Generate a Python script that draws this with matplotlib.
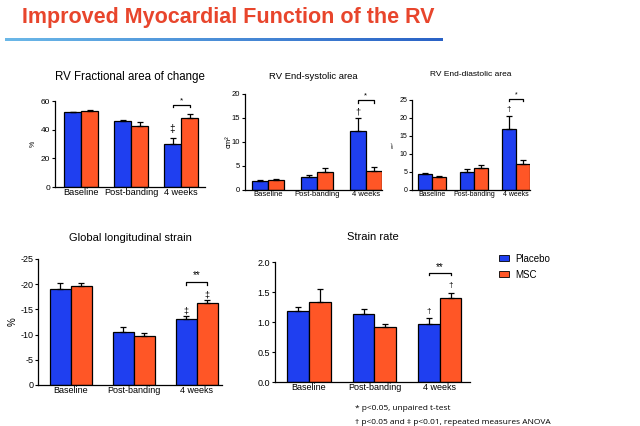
import matplotlib as mpl
mpl.use('Agg')
import matplotlib.pyplot as plt
import matplotlib.patches as mpatches
import numpy as np

plt.rcParams['font.family'] = ['Liberation Sans', 'DejaVu Sans']
plt.rcParams['axes.unicode_minus'] = False

groups = ['Baseline', 'Post-banding', '4 weeks']
series = ['Placebo', 'MSC']
blue = '#1f3ff0'
orange = '#ff5626'

# RV fractional area of change (%)
fac_placebo = [52, 46, 30]
fac_placebo_err = [0.6, 0.9, 4.5]
fac_msc = [53, 42.5, 48]
fac_msc_err = [0.6, 2.6, 3.2]

# RV end-systolic area (cm2)
esa_placebo = [1.9, 2.7, 12.2]
esa_placebo_err = [0.2, 0.5, 2.7]
esa_msc = [2.1, 3.7, 3.9]
esa_msc_err = [0.2, 0.9, 0.9]

# RV end-diastolic area (cm2)
eda_placebo = [4.5, 4.9, 17.0]
eda_placebo_err = [0.3, 0.9, 3.6]
eda_msc = [3.6, 6.0, 7.2]
eda_msc_err = [0.4, 1.0, 1.2]

# Global longitudinal strain (%)
gls_placebo = [-19.0, -10.6, -13.1]
gls_placebo_err = [1.3, 1.0, 0.5]
gls_msc = [-19.7, -9.8, -16.2]
gls_msc_err = [0.5, 0.6, 0.6]

# Strain rate
sr_placebo = [1.19, 1.14, 0.97]
sr_placebo_err = [0.06, 0.08, 0.09]
sr_msc = [1.33, 0.91, 1.40]
sr_msc_err = [0.22, 0.06, 0.08]

W, H = 640, 426
fig = plt.figure(figsize=(6.4, 4.26), dpi=100)


def px_axes(left, right, top, bottom):
    return fig.add_axes([left / W, 1 - bottom / H, (right - left) / W, (bottom - top) / H])


def bars(ax, a, a_err, b, b_err, w=0.34, sign=1):
    x = np.arange(len(groups))
    for xs, vals, errs, col in [(x - w / 2, a, a_err, blue), (x + w / 2, b, b_err, orange)]:
        ax.bar(xs, vals, width=w, color=col, edgecolor='black', linewidth=0.9, zorder=2)
        if sign > 0:
            yerr = [np.zeros(len(errs)), errs]
        else:
            yerr = [errs, np.zeros(len(errs))]
        ax.errorbar(xs, vals, yerr=yerr, fmt='none', ecolor='black',
                    elinewidth=0.9, capsize=2.2, capthick=0.9, zorder=3)
    ax.set_xticks(x)
    ax.set_xticklabels(groups)
    ax.tick_params(axis='x', length=0, pad=1)
    ax.tick_params(axis='y', length=2.5, width=0.8, pad=1)
    for s in ['top', 'right']:
        ax.spines[s].set_visible(False)
    for s in ['left', 'bottom']:
        ax.spines[s].set_linewidth(0.9)


def bracket(ax, x0, x1, y, h, star, fs, dy):
    ax.plot([x0, x0, x1, x1], [y - h, y, y, y - h], color='black', lw=0.9, clip_on=False)
    ax.text((x0 + x1) / 2, y + dy, star, ha='center', va='center', fontsize=fs, clip_on=False)


# panel 1
ax1 = px_axes(55, 205, 101, 187)
bars(ax1, fac_placebo, fac_placebo_err, fac_msc, fac_msc_err)
ax1.set_xlim(-0.52, 2.48)
ax1.set_ylim(0, 60)
ax1.set_yticks([0, 20, 40, 60])
ax1.tick_params(axis='y', labelsize=6)
ax1.tick_params(axis='x', labelsize=6.6)
ax1.set_ylabel('%', fontsize=5, labelpad=3)
ax1.set_title('RV Fractional area of change', fontsize=8.3, pad=15)
bracket(ax1, 1.83, 2.17, 57, 1.2, '*', 6, 3.2)
ax1.text(1.83, 40.5, '‡', ha='center', va='center', fontsize=7)

# panel 2
ax2 = px_axes(245, 382, 94, 190)
bars(ax2, esa_placebo, esa_placebo_err, esa_msc, esa_msc_err, w=0.33)
ax2.set_xlim(-0.47, 2.33)
ax2.set_ylim(0, 20)
ax2.set_yticks([0, 5, 10, 15, 20])
ax2.tick_params(labelsize=5.5)
ax2.set_ylabel('cm²', fontsize=5.5, labelpad=-1)
ax2.set_title('RV End-systolic area', fontsize=6.8, pad=11)
bracket(ax2, 1.83, 2.17, 18.7, 0.5, '*', 5.5, 1.0)
ax2.text(1.835, 16.2, '†', ha='center', va='center', fontsize=6.5)

# panel 3
ax3 = px_axes(412, 530, 100, 190)
bars(ax3, eda_placebo, eda_placebo_err, eda_msc, eda_msc_err, w=0.33)
ax3.set_xlim(-0.48, 2.33)
ax3.set_ylim(0, 25)
ax3.set_yticks([0, 5, 10, 15, 20, 25])
ax3.tick_params(labelsize=5)
ax3.set_ylabel('cm²', fontsize=3, labelpad=3)
ax3.set_title('RV End-diastolic area', fontsize=6, pad=17)
bracket(ax3, 1.835, 2.165, 25.3, 0.6, '*', 5, 1.2)
ax3.text(1.835, 22.3, '†', ha='center', va='center', fontsize=6)

# panel 4
ax4 = px_axes(38, 222, 259, 385)
bars(ax4, gls_placebo, gls_placebo_err, gls_msc, gls_msc_err, w=0.33, sign=-1)
ax4.set_xlim(-0.52, 2.40)
ax4.set_ylim(0, -25)
ax4.set_yticks([0, -5, -10, -15, -20, -25])
ax4.set_yticklabels(['0', '-5', '-10', '-15', '-20', '-25'])
ax4.tick_params(labelsize=6.5)
ax4.set_ylabel('%', fontsize=7, labelpad=2)
ax4.set_title('Global longitudinal strain', fontsize=8, pad=13)
bracket(ax4, 1.835, 2.165, -20.5, -0.6, '**', 7, -1.3)
ax4.text(1.835, -14.7, '‡', ha='center', va='center', fontsize=6.5)
ax4.text(2.165, -17.8, '‡', ha='center', va='center', fontsize=6.5)

# panel 5
ax5 = px_axes(275, 470, 262, 382)
bars(ax5, sr_placebo, sr_placebo_err, sr_msc, sr_msc_err, w=0.33)
ax5.set_xlim(-0.52, 2.46)
ax5.set_ylim(0, 2.0)
ax5.set_yticks([0, 0.5, 1.0, 1.5, 2.0])
ax5.set_yticklabels(['0.0', '0.5', '1.0', '1.5', '2.0'])
ax5.tick_params(labelsize=6.5)
ax5.set_title('Strain rate', fontsize=8, pad=16)
bracket(ax5, 1.835, 2.165, 1.82, 0.04, '**', 7, 0.1)
ax5.text(1.835, 1.17, '†', ha='center', va='center', fontsize=6)
ax5.text(2.165, 1.60, '†', ha='center', va='center', fontsize=6)

# legend
handles = [mpatches.Patch(facecolor=c, edgecolor='black', linewidth=0.6, label=s)
           for c, s in zip([blue, orange], series)]
fig.legend(handles=handles, loc='upper left', bbox_to_anchor=(490 / W, 1 - 245 / H),
           frameon=False, fontsize=7, handlelength=1.1, handleheight=0.6,
           handletextpad=0.6, labelspacing=0.6)

# footnotes
fig.text(355 / W, 1 - 409 / H, '* p<0.05, unpaired t-test', fontsize=6, va='center',
         family=['Open Sans', 'DejaVu Sans'])
fig.text(355 / W, 1 - 422 / H, '† p<0.05 and ‡ p<0.01, repeated measures ANOVA', fontsize=6,
         va='center', family=['Open Sans', 'DejaVu Sans'])

# slide title and rule
fig.text(22 / W, 1 - 18 / H, 'Improved Myocardial Function of the RV', fontsize=15.5,
         fontweight='bold', color='#e8452c', va='center')
rule = fig.add_axes([5 / W, 1 - 41 / H, 438 / W, 3.5 / H])
rule.imshow(np.linspace(0, 1, 256).reshape(1, -1), aspect='auto',
            cmap=mpl.colors.LinearSegmentedColormap.from_list('r', ['#6bb8e8', '#2a62c6']))
rule.axis('off')

fig.savefig('out.png', dpi=100)
